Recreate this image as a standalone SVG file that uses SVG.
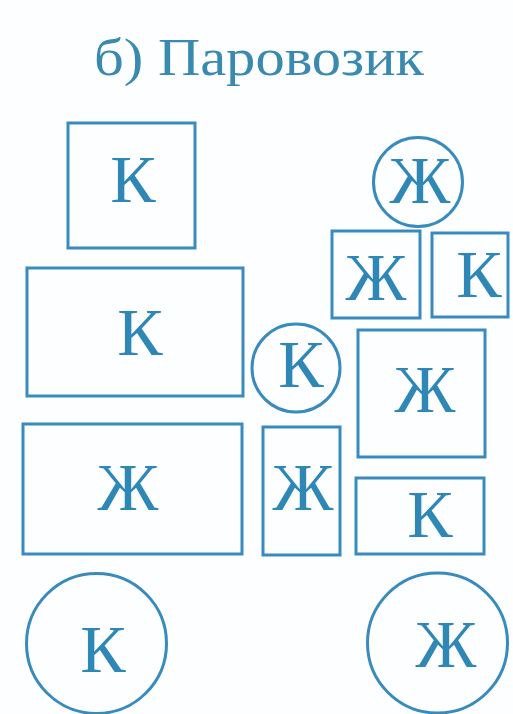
<svg xmlns="http://www.w3.org/2000/svg" width="513" height="714" viewBox="0 0 513 714">
<style>
.s{fill:none;stroke:#3a8bbd;stroke-width:3}
.t{font-family:"Liberation Serif","Times New Roman",serif;font-size:68px;fill:#2f87b6;text-anchor:middle}
.h{font-family:"Liberation Serif","Times New Roman",serif;font-size:53px;fill:#3a8ab0;text-anchor:middle}
</style>
<rect width="513" height="714" fill="#fdfeff"/>
<text class="h" x="259" y="75" textLength="330" lengthAdjust="spacingAndGlyphs">б) Паровозик</text>
<g id="n1"><rect class="s" x="68" y="123" width="127" height="125"/><text class="t" x="133" y="202">К</text></g>
<g id="n2"><rect class="s" x="27" y="268" width="216" height="128"/><text class="t" x="140" y="355">К</text></g>
<g id="n3"><rect class="s" x="23" y="424" width="219" height="130"/><text class="t" x="128" y="510">Ж</text></g>
<g id="n4"><circle class="s" cx="96.5" cy="643.5" r="70"/><text class="t" x="103" y="672">К</text></g>
<g id="n5"><circle class="s" cx="418" cy="182" r="44.5"/><text class="t" x="420" y="203">Ж</text></g>
<g id="n6"><rect class="s" x="332" y="231" width="88" height="87"/><text class="t" x="376" y="300">Ж</text></g>
<g id="n7"><rect class="s" x="432" y="233" width="76" height="84"/><text class="t" x="479" y="297">К</text></g>
<g id="n8"><circle class="s" cx="296" cy="368" r="44"/><text class="t" x="301" y="387">К</text></g>
<g id="n9"><rect class="s" x="358" y="330" width="127" height="127"/><text class="t" x="425" y="412">Ж</text></g>
<g id="n10"><rect class="s" x="263" y="427" width="77" height="128"/><text class="t" x="303" y="510">Ж</text></g>
<g id="n11"><rect class="s" x="356" y="478" width="128" height="76"/><text class="t" x="430" y="537">К</text></g>
<g id="n12"><circle class="s" cx="437.5" cy="643" r="70"/><text class="t" x="446" y="667">Ж</text></g>
<g id="connectors"></g>
</svg>
